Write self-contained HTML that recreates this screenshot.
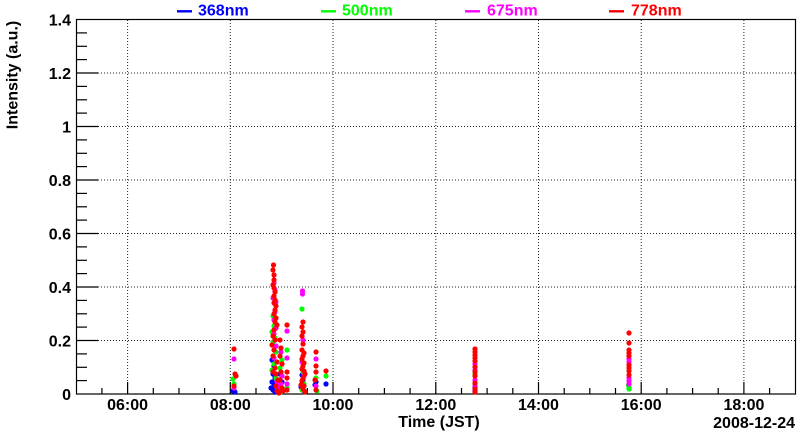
<!DOCTYPE html>
<html><head><meta charset="utf-8"><style>
html,body{margin:0;padding:0;background:#fff;}
svg{display:block;}
text{font-family:"Liberation Sans",Arial,sans-serif;font-weight:bold;font-size:16px;fill:#000;}
g.pts circle{r:2.6px;}
</style></head><body>
<svg width="800" height="434" viewBox="0 0 800 434" xmlns="http://www.w3.org/2000/svg">
<rect x="0" y="0" width="800" height="434" fill="#fff"/>
<!-- grid -->
<g stroke="#222" stroke-width="1" stroke-dasharray="1,2" fill="none">
<line x1="127.6" y1="20" x2="127.6" y2="394"/>
<line x1="230.3" y1="20" x2="230.3" y2="394"/>
<line x1="333" y1="20" x2="333" y2="394"/>
<line x1="435.8" y1="20" x2="435.8" y2="394"/>
<line x1="538.5" y1="20" x2="538.5" y2="394"/>
<line x1="641.2" y1="20" x2="641.2" y2="394"/>
<line x1="743.9" y1="20" x2="743.9" y2="394"/>
<line x1="77" y1="340.5" x2="795" y2="340.5"/>
<line x1="77" y1="287" x2="795" y2="287"/>
<line x1="77" y1="233.5" x2="795" y2="233.5"/>
<line x1="77" y1="180" x2="795" y2="180"/>
<line x1="77" y1="126.5" x2="795" y2="126.5"/>
<line x1="77" y1="73" x2="795" y2="73"/>
</g>
<!-- frame -->
<rect x="76.5" y="19.5" width="719" height="374.5" fill="none" stroke="#000" stroke-width="1.2"/>
<!-- y ticks -->
<g stroke="#000" stroke-width="1.2">
<line x1="76.5" y1="340.5" x2="98" y2="340.5"/><line x1="76.5" y1="287" x2="98" y2="287"/>
<line x1="76.5" y1="233.5" x2="98" y2="233.5"/><line x1="76.5" y1="180" x2="98" y2="180"/>
<line x1="76.5" y1="126.5" x2="98" y2="126.5"/><line x1="76.5" y1="73" x2="98" y2="73"/>
<line x1="76.5" y1="380.6" x2="87" y2="380.6"/><line x1="76.5" y1="367.3" x2="87" y2="367.3"/><line x1="76.5" y1="353.9" x2="87" y2="353.9"/>
<line x1="76.5" y1="327.1" x2="87" y2="327.1"/><line x1="76.5" y1="313.8" x2="87" y2="313.8"/><line x1="76.5" y1="300.4" x2="87" y2="300.4"/>
<line x1="76.5" y1="273.6" x2="87" y2="273.6"/><line x1="76.5" y1="260.3" x2="87" y2="260.3"/><line x1="76.5" y1="246.9" x2="87" y2="246.9"/>
<line x1="76.5" y1="220.1" x2="87" y2="220.1"/><line x1="76.5" y1="206.8" x2="87" y2="206.8"/><line x1="76.5" y1="193.4" x2="87" y2="193.4"/>
<line x1="76.5" y1="166.6" x2="87" y2="166.6"/><line x1="76.5" y1="153.3" x2="87" y2="153.3"/><line x1="76.5" y1="139.9" x2="87" y2="139.9"/>
<line x1="76.5" y1="113.1" x2="87" y2="113.1"/><line x1="76.5" y1="99.8" x2="87" y2="99.8"/><line x1="76.5" y1="86.4" x2="87" y2="86.4"/>
<line x1="76.5" y1="59.6" x2="87" y2="59.6"/><line x1="76.5" y1="46.3" x2="87" y2="46.3"/><line x1="76.5" y1="32.9" x2="87" y2="32.9"/>
</g>
<!-- x ticks -->
<g stroke="#000" stroke-width="1.2">
<line x1="127.6" y1="394" x2="127.6" y2="382"/><line x1="230.3" y1="394" x2="230.3" y2="382"/>
<line x1="333" y1="394" x2="333" y2="382"/><line x1="435.8" y1="394" x2="435.8" y2="382"/>
<line x1="538.5" y1="394" x2="538.5" y2="382"/><line x1="641.2" y1="394" x2="641.2" y2="382"/>
<line x1="743.9" y1="394" x2="743.9" y2="382"/>
<line x1="101.9" y1="394" x2="101.9" y2="388"/><line x1="153.3" y1="394" x2="153.3" y2="388"/><line x1="179" y1="394" x2="179" y2="388"/>
<line x1="204.6" y1="394" x2="204.6" y2="388"/><line x1="256" y1="394" x2="256" y2="388"/><line x1="281.7" y1="394" x2="281.7" y2="388"/>
<line x1="307.3" y1="394" x2="307.3" y2="388"/><line x1="358.7" y1="394" x2="358.7" y2="388"/><line x1="384.4" y1="394" x2="384.4" y2="388"/>
<line x1="410.1" y1="394" x2="410.1" y2="388"/><line x1="461.5" y1="394" x2="461.5" y2="388"/><line x1="487.1" y1="394" x2="487.1" y2="388"/>
<line x1="512.8" y1="394" x2="512.8" y2="388"/><line x1="564.2" y1="394" x2="564.2" y2="388"/><line x1="589.8" y1="394" x2="589.8" y2="388"/>
<line x1="615.5" y1="394" x2="615.5" y2="388"/><line x1="666.9" y1="394" x2="666.9" y2="388"/><line x1="692.6" y1="394" x2="692.6" y2="388"/>
<line x1="718.2" y1="394" x2="718.2" y2="388"/><line x1="769.6" y1="394" x2="769.6" y2="388"/>
</g>
<!-- data: blue -->
<g class="pts" fill="#0000ff">
<circle cx="233" cy="391" r="2.6"/><circle cx="235" cy="392" r="2.6"/>
<circle cx="272" cy="360" r="2.6"/><circle cx="274" cy="366" r="2.6"/><circle cx="273" cy="374" r="2.6"/><circle cx="275" cy="378" r="2.6"/><circle cx="272" cy="382" r="2.6"/><circle cx="274" cy="386" r="2.6"/><circle cx="273" cy="390" r="2.6"/><circle cx="276" cy="384" r="2.6"/><circle cx="275" cy="392" r="2.6"/><circle cx="271" cy="388" r="2.6"/>
<circle cx="280" cy="374" r="2.6"/><circle cx="282" cy="382" r="2.6"/>
<circle cx="302" cy="375" r="2.6"/><circle cx="303" cy="380" r="2.6"/><circle cx="301" cy="387" r="2.6"/><circle cx="304" cy="391" r="2.6"/>
<circle cx="316" cy="382" r="2.6"/><circle cx="315" cy="385" r="2.6"/>
<circle cx="326" cy="384" r="2.6"/>
<circle cx="475" cy="387" r="2.6"/><circle cx="475" cy="391" r="2.6"/>
</g>
<!-- data: green -->
<g class="pts" fill="#00ff00">
<circle cx="233" cy="379" r="2.6"/><circle cx="234" cy="384" r="2.6"/>
<circle cx="273" cy="316" r="2.6"/><circle cx="274" cy="326" r="2.6"/><circle cx="272" cy="332" r="2.6"/><circle cx="275" cy="338" r="2.6"/><circle cx="273" cy="342" r="2.6"/><circle cx="276" cy="352" r="2.6"/><circle cx="274" cy="364" r="2.6"/><circle cx="272" cy="370" r="2.6"/><circle cx="276" cy="378" r="2.6"/>
<circle cx="282" cy="360" r="2.6"/><circle cx="280" cy="368" r="2.6"/><circle cx="281" cy="392" r="2.6"/>
<circle cx="287" cy="350" r="2.6"/><circle cx="287" cy="388" r="2.6"/>
<circle cx="302" cy="309" r="2.6"/><circle cx="303" cy="372" r="2.6"/><circle cx="304" cy="384" r="2.6"/><circle cx="302" cy="390" r="2.6"/>
<circle cx="316" cy="378" r="2.6"/><circle cx="317" cy="391" r="2.6"/>
<circle cx="326" cy="376" r="2.6"/>
<circle cx="475" cy="374" r="2.6"/><circle cx="475" cy="385" r="2.6"/>
<circle cx="628.5" cy="385" r="2.6"/><circle cx="629" cy="387" r="2.6"/><circle cx="629" cy="389" r="2.6"/>
</g>
<!-- data: magenta -->
<g class="pts" fill="#ff00ff">
<circle cx="234" cy="359" r="2.6"/><circle cx="234" cy="388" r="2.6"/>
<circle cx="274" cy="283" r="2.6"/><circle cx="275" cy="290" r="2.6"/><circle cx="273" cy="298" r="2.6"/><circle cx="276" cy="302" r="2.6"/><circle cx="275" cy="312" r="2.6"/><circle cx="274" cy="320" r="2.6"/><circle cx="276" cy="328" r="2.6"/><circle cx="274" cy="334" r="2.6"/><circle cx="276" cy="346" r="2.6"/><circle cx="274" cy="358" r="2.6"/><circle cx="277" cy="382" r="2.6"/><circle cx="279" cy="388" r="2.6"/>
<circle cx="281" cy="352" r="2.6"/><circle cx="282" cy="376" r="2.6"/><circle cx="281" cy="384" r="2.6"/>
<circle cx="287" cy="331" r="2.6"/><circle cx="287" cy="358" r="2.6"/><circle cx="287" cy="384" r="2.6"/>
<circle cx="302.5" cy="291" r="2.6"/><circle cx="302.5" cy="294" r="2.6"/><circle cx="303" cy="340" r="2.6"/><circle cx="302" cy="362" r="2.6"/><circle cx="304" cy="376" r="2.6"/>
<circle cx="316" cy="359" r="2.6"/><circle cx="316" cy="386" r="2.6"/>
<circle cx="475" cy="364" r="2.6"/><circle cx="475" cy="370" r="2.6"/><circle cx="475" cy="380" r="2.6"/><circle cx="475" cy="386" r="2.6"/>
<circle cx="629" cy="359" r="2.6"/><circle cx="629" cy="362" r="2.6"/><circle cx="629" cy="378" r="2.6"/><circle cx="629" cy="381" r="2.6"/><circle cx="629" cy="384" r="2.6"/>
</g>
<!-- data: red -->
<g class="pts" fill="#ff0000">
<circle cx="234" cy="349" r="2.6"/><circle cx="235" cy="374" r="2.6"/><circle cx="236" cy="376" r="2.6"/><circle cx="234" cy="386" r="2.6"/>
<circle cx="273.5" cy="265" r="2.6"/><circle cx="273" cy="270" r="2.6"/><circle cx="274" cy="275" r="2.6"/><circle cx="274" cy="280" r="2.6"/><circle cx="273" cy="285" r="2.6"/><circle cx="274" cy="288" r="2.6"/><circle cx="275" cy="292" r="2.6"/><circle cx="274" cy="296" r="2.6"/><circle cx="275" cy="300" r="2.6"/><circle cx="274" cy="303" r="2.6"/><circle cx="276" cy="306" r="2.6"/><circle cx="275" cy="310" r="2.6"/><circle cx="274" cy="314" r="2.6"/><circle cx="276" cy="318" r="2.6"/><circle cx="275" cy="322" r="2.6"/><circle cx="277" cy="325" r="2.6"/><circle cx="274" cy="330" r="2.6"/><circle cx="273" cy="336" r="2.6"/><circle cx="275" cy="340" r="2.6"/><circle cx="272" cy="345" r="2.6"/><circle cx="274" cy="350" r="2.6"/><circle cx="273" cy="356" r="2.6"/><circle cx="277" cy="362" r="2.6"/><circle cx="275" cy="368" r="2.6"/><circle cx="276" cy="374" r="2.6"/><circle cx="278" cy="380" r="2.6"/><circle cx="276" cy="386" r="2.6"/><circle cx="277" cy="391" r="2.6"/><circle cx="279" cy="393" r="2.6"/><circle cx="273" cy="372" r="2.6"/>
<circle cx="280" cy="340" r="2.6"/><circle cx="281" cy="348" r="2.6"/><circle cx="280" cy="356" r="2.6"/><circle cx="282" cy="364" r="2.6"/><circle cx="281" cy="372" r="2.6"/><circle cx="280" cy="380" r="2.6"/><circle cx="282" cy="388" r="2.6"/><circle cx="283" cy="391" r="2.6"/>
<circle cx="287" cy="325" r="2.6"/><circle cx="287" cy="372" r="2.6"/><circle cx="287" cy="378" r="2.6"/><circle cx="287" cy="390" r="2.6"/>
<circle cx="303" cy="322" r="2.6"/><circle cx="302" cy="327" r="2.6"/><circle cx="303" cy="332" r="2.6"/><circle cx="302" cy="336" r="2.6"/><circle cx="303" cy="344" r="2.6"/><circle cx="302" cy="350" r="2.6"/><circle cx="304" cy="353" r="2.6"/><circle cx="303" cy="356" r="2.6"/><circle cx="302" cy="359" r="2.6"/><circle cx="304" cy="363" r="2.6"/><circle cx="303" cy="366" r="2.6"/><circle cx="302" cy="369" r="2.6"/><circle cx="304" cy="371" r="2.6"/><circle cx="305" cy="374" r="2.6"/><circle cx="303" cy="378" r="2.6"/><circle cx="302" cy="381" r="2.6"/><circle cx="304" cy="386" r="2.6"/><circle cx="303" cy="389" r="2.6"/><circle cx="305" cy="392" r="2.6"/><circle cx="301" cy="385" r="2.6"/>
<circle cx="316" cy="352" r="2.6"/><circle cx="316" cy="366" r="2.6"/><circle cx="316" cy="372" r="2.6"/><circle cx="316" cy="390" r="2.6"/><circle cx="315" cy="380" r="2.6"/>
<circle cx="326" cy="371" r="2.6"/>
<circle cx="475" cy="349" r="2.6"/><circle cx="475" cy="352" r="2.6"/><circle cx="475" cy="355" r="2.6"/><circle cx="475" cy="358" r="2.6"/><circle cx="475" cy="361" r="2.6"/><circle cx="475" cy="367" r="2.6"/><circle cx="475" cy="372" r="2.6"/><circle cx="475" cy="376" r="2.6"/><circle cx="475" cy="383" r="2.6"/><circle cx="475" cy="389" r="2.6"/><circle cx="475" cy="392" r="2.6"/>
<circle cx="629" cy="333" r="2.6"/><circle cx="629" cy="343" r="2.6"/><circle cx="629" cy="350" r="2.6"/><circle cx="629" cy="353" r="2.6"/><circle cx="629" cy="356" r="2.6"/><circle cx="629" cy="365" r="2.6"/><circle cx="629" cy="368" r="2.6"/><circle cx="629" cy="371" r="2.6"/><circle cx="629" cy="375" r="2.6"/>
</g>
<!-- y labels -->
<g text-anchor="end">
<text x="71" y="400">0</text>
<text x="71" y="346.5">0.2</text>
<text x="71" y="293">0.4</text>
<text x="71" y="239.5">0.6</text>
<text x="71" y="186">0.8</text>
<text x="71" y="132.5">1</text>
<text x="71" y="79">1.2</text>
<text x="71" y="25.5">1.4</text>
</g>
<text transform="translate(17.5,75) rotate(-90)" text-anchor="middle">Intensity (a.u.)</text>
<!-- x labels -->
<g text-anchor="middle">
<text x="127.6" y="410">06:00</text>
<text x="230.3" y="410">08:00</text>
<text x="333" y="410">10:00</text>
<text x="435.8" y="410">12:00</text>
<text x="538.5" y="410">14:00</text>
<text x="641.2" y="410">16:00</text>
<text x="743.9" y="410">18:00</text>
</g>
<text x="439" y="427" text-anchor="middle">Time (JST)</text>
<text x="795" y="428" text-anchor="end">2008-12-24</text>
<!-- legend -->
<line x1="177" y1="11.3" x2="192" y2="11.3" stroke="#0000ff" stroke-width="2.4"/>
<text x="198" y="15.5" style="fill:#0000ff">368nm</text>
<line x1="321" y1="11.3" x2="336" y2="11.3" stroke="#00ff00" stroke-width="2.4"/>
<text x="342" y="15.5" style="fill:#00ff00">500nm</text>
<line x1="465" y1="11.3" x2="480" y2="11.3" stroke="#ff00ff" stroke-width="2.4"/>
<text x="487" y="15.5" style="fill:#ff00ff">675nm</text>
<line x1="609" y1="11.3" x2="624" y2="11.3" stroke="#ff0000" stroke-width="2.4"/>
<text x="631" y="15.5" style="fill:#ff0000">778nm</text>
</svg>
</body></html>
